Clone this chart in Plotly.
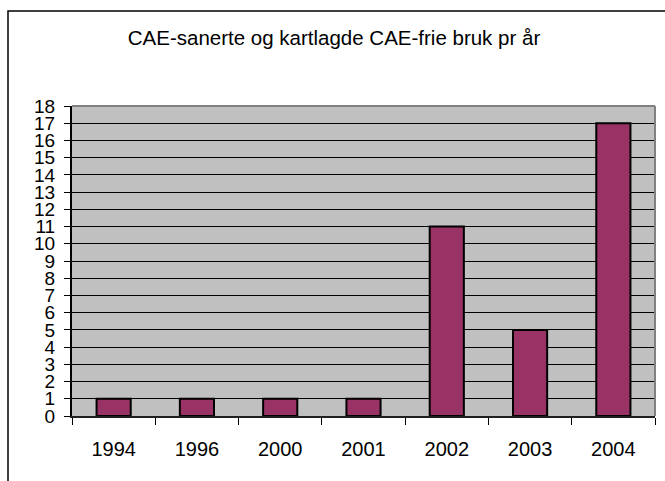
import plotly.graph_objects as go

years = ["1994", "1996", "2000", "2001", "2002", "2003", "2004"]
counts = [1, 1, 1, 1, 11, 5, 17]
title_text = "CAE-sanerte og kartlagde CAE-frie bruk pr år"
y_ticks = list(range(0, 19))

FONT = "Liberation Sans, Arial, sans-serif"

fig = go.Figure(
    go.Bar(
        x=years,
        y=counts,
        width=0.41,
        marker=dict(color="#993366", line=dict(color="black", width=2)),
    )
)

L, R, T, B = 72, 10, 106, 65
W, H = 665, 481
pw = W - L - R
ph = H - T - B

fig.update_layout(
    width=W,
    height=H,
    margin=dict(l=L, r=R, t=T, b=B, pad=0, autoexpand=False),
    paper_bgcolor="white",
    plot_bgcolor="#C0C0C0",
    showlegend=False,
    font=dict(family=FONT, color="black", size=19),
    title=dict(
        text=title_text,
        x=334 / W,
        xref="container",
        xanchor="center",
        y=1 - 37.5 / H,
        yanchor="middle",
        font=dict(family=FONT, size=20.5, color="black"),
    ),
    xaxis=dict(
        type="category",
        automargin=False,
        showgrid=False,
        showline=True,
        linecolor="#202020",
        linewidth=1.5,
        ticks="outside",
        tickson="boundaries",
        ticklen=7,
        tickcolor="black",
        tickwidth=1,
        tickfont=dict(size=20),
        ticklabelstandoff=14,
    ),
    yaxis=dict(
        automargin=False,
        range=[0, 18],
        tickvals=y_ticks,
        showgrid=True,
        gridcolor="black",
        gridwidth=1,
        showline=True,
        linecolor="black",
        linewidth=2,
        ticks="outside",
        ticklen=6,
        tickcolor="black",
        tickwidth=1,
        tickfont=dict(size=19),
        ticklabelstandoff=5,
        zeroline=False,
    ),
    bargap=0.59,
)

# plot-area border (gray, top & right)
fig.add_shape(
    type="line", xref="paper", yref="paper",
    x0=0, x1=1, y0=1, y1=1,
    line=dict(color="#808080", width=2), layer="above",
)
fig.add_shape(
    type="line", xref="paper", yref="paper",
    x0=1, x1=1, y0=0, y1=1,
    line=dict(color="#808080", width=2), layer="above",
)

# outer chart border
fig.add_shape(
    type="rect", xref="paper", yref="paper",
    x0=(8 - L) / pw, x1=1.2,
    y0=-0.5, y1=(H - B - 11) / ph,
    line=dict(color="black", width=1.5),
    fillcolor="rgba(0,0,0,0)",
    layer="above",
)

fig.write_html(
    "out.html",
    config={"displayModeBar": False},
    post_script="document.body.style.margin='0';document.body.style.overflow='hidden';",
)
